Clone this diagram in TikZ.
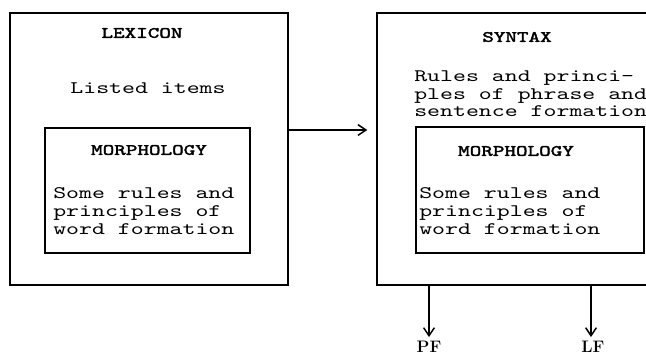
\documentclass[tikz,border=0pt]{standalone}
\usepackage{fontspec}
\newfontfamily\tw{lmmono10-regular.otf}[BoldFont=lmmono10-regular.otf, BoldFeatures={FakeBold=2.5}, FakeStretch=1.4]
\usetikzlibrary{arrows.meta}
\tikzset{
  frame/.style={draw, line width=1.1pt, inner sep=0pt},
  head/.style={font=\tw\bfseries\fontsize{11.8}{12}\selectfont, inner sep=0pt},
  body/.style={font=\tw\fontsize{13.2}{13.8}\selectfont, align=left, inner sep=0pt, anchor=west},
  synbody/.style={font=\tw\fontsize{13.2}{13.2}\selectfont, align=left, inner sep=0pt, anchor=west},
  plain/.style={font=\tw\fontsize{13.2}{13.3}\selectfont, inner sep=0pt},
  lab/.style={font=\bfseries\fontsize{12.5}{12.5}\selectfont, inner sep=1pt},
  arr/.style={-{Straight Barb[length=6pt,width=8pt]}, line width=1.1pt}
}
\begin{document}
\begin{tikzpicture}[x=0.75pt,y=-0.75pt]
\useasboundingbox (0,0) rectangle (646,355);
\clip (0,0) rectangle (646,355);
% left outer box
\node[frame, minimum width=278*0.75pt, minimum height=272*0.75pt] (lex) at (149,149) {};
\node[frame, minimum width=205*0.75pt, minimum height=125*0.75pt] (morphL) at (147.5,190.5) {};
\node[head] (lexT) at (142,33) {LEXICON};
\node[plain] (listed) at (148,88) {Listed items};
\node[head] (morphLT) at (149,150) {MORPHOLOGY};
\node[body] (morphLB) at (53,211) {Some rules and\\principles of\\word formation};
% right outer box
\node[frame, minimum width=303*0.75pt, minimum height=272*0.75pt] (syn) at (528.5,149) {};
\node[frame, minimum width=228*0.75pt, minimum height=126*0.75pt] (morphR) at (530,190) {};
\node[head] (synT) at (517,37) {SYNTAX};
\node[synbody] (synB) at (414,94) {Rules and princi-\\ples of phrase and\\sentence formation};
\node[head] (morphRT) at (516,151) {MORPHOLOGY};
\node[body] (morphRB) at (419,211) {Some rules and\\principles of\\word formation};
% outputs
\node[lab] (pf) at (429,347) {PF};
\node[lab] (lf) at (593,347) {LF};
\coordinate (ay) at (0,130);
\draw[arr, shorten >=9*0.75pt] (lex.east |- ay) -- (syn.west |- ay);
\coordinate (pfx) at (429,0);
\coordinate (lfx) at (591,0);
\draw[arr, shorten >=2pt] (pfx |- syn.south) -- (pfx |- pf.north);
\draw[arr, shorten >=2pt] (lfx |- syn.south) -- (lfx |- lf.north);
\end{tikzpicture}
\end{document}
